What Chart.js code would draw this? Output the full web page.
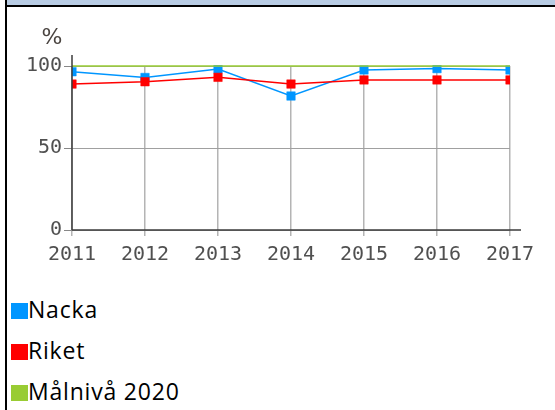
<!DOCTYPE html>
<html>
<head>
<meta charset="utf-8">
<script src="https://cdn.jsdelivr.net/npm/chart.js@4/dist/chart.umd.min.js"></script>
<style>
  html, body { margin: 0; padding: 0; background: #fff; width: 555px; height: 410px; overflow: hidden; }
  #wrap { position: absolute; left: 0; top: 0; width: 555px; height: 280px; }
  .band { position: absolute; left: 7px; top: 0; width: 548px; height: 5px; background: #b8cce4; }
  .hline { position: absolute; left: 5px; top: 5px; width: 550px; height: 2px; background: #000; }
  .vline { position: absolute; left: 5px; top: 0; width: 2px; height: 410px; background: #000; }
  .leg { position: absolute; left: 11px; height: 23px; line-height: 23px; font-family: "Open Sans", sans-serif;
         font-size: 23px; letter-spacing: 0.8px; color: #000; white-space: nowrap; }
  .leg i { display: inline-block; width: 17px; height: 16px; vertical-align: -1px; margin-right: 0; }
</style>
</head>
<body>
<div id="wrap"><canvas id="chart" width="555" height="280"></canvas></div>
<div class="band"></div>
<div class="hline"></div>
<div class="vline"></div>
<div id="legend"></div>

<script>
// ── Data ──────────────────────────────────────────────────────────────────────
const years  = ['2011', '2012', '2013', '2014', '2015', '2016', '2017'];
const nacka  = [96.5, 93, 98.2, 81.7, 97.6, 98.4, 97.6];
const riket  = [89, 90.4, 93.1, 89, 91.5, 91.5, 91.5];
const malniva = [100, 100, 100, 100, 100, 100, 100];
const yTicks = [0, 50, 100];

const series = [
  { label: 'Nacka',        data: nacka,   color: '#0096ff' },
  { label: 'Riket',        data: riket,   color: '#ff0000' },
  { label: 'Målnivå 2020', data: malniva, color: '#99cc33' },
];

const TICK_FONT = { family: 'DejaVu Sans Mono', size: 20 };

// axis lines + "%" label (the y axis runs a bit above 100)
const axisPlugin = {
  id: 'axisLines',
  afterDraw(chart) {
    const { ctx, chartArea: a } = chart;
    ctx.save();
    ctx.strokeStyle = '#3c3c3c';
    ctx.lineWidth = 1.5;
    ctx.beginPath();
    ctx.moveTo(a.left, a.top - 11);
    ctx.lineTo(a.left, a.bottom);
    ctx.moveTo(a.left, a.bottom);
    ctx.lineTo(a.right + 11, a.bottom);
    ctx.stroke();
    ctx.fillStyle = '#4a4440';
    ctx.font = '22px "DejaVu Sans"';
    ctx.textAlign = 'center';
    ctx.textBaseline = 'middle';
    ctx.fillText('%', 52, 38);
    ctx.restore();
  }
};

new Chart(document.getElementById('chart'), {
  type: 'line',
  data: {
    labels: years,
    datasets: series.map(s => ({
      label: s.label,
      data: s.data,
      borderColor: s.color,
      backgroundColor: s.color,
      borderWidth: 1.5,
      pointStyle: 'rect',
      pointRadius: s.label === 'Målnivå 2020' ? 0 : 6,
      pointBorderWidth: 0.5,
      pointHoverRadius: 0,
      tension: 0,
      clip: { left: 0, right: 0, top: 1, bottom: 0 },
    })).reverse()
  },
  options: {
    responsive: false,
    animation: false,
    events: [],
    layout: { padding: { top: 66, right: 45, bottom: 0, left: 0 } },
    plugins: { legend: { display: false }, tooltip: { enabled: false } },
    scales: {
      x: {
        offset: false,
        border: { display: false },
        grid: { color: '#b4b4b4', lineWidth: 1.5, tickLength: 6, tickColor: '#b4b4b4' },
        ticks: { font: TICK_FONT, color: '#505050', padding: 7, maxRotation: 0, autoSkip: false },
        afterFit(scale) { scale.height = 50; }
      },
      y: {
        min: 0,
        max: 100,
        border: { display: false },
        afterBuildTicks(scale) { scale.ticks = yTicks.map(v => ({ value: v })); },
        grid: { color: '#a0a0a0', lineWidth: 1, tickLength: 8, tickColor: '#888' },
        ticks: { font: TICK_FONT, color: '#505050', padding: 2 },
        afterFit(scale) { scale.width = 72; }
      }
    }
  },
  plugins: [axisPlugin]
});

// ── HTML legend ───────────────────────────────────────────────────────────────
const legend = document.getElementById('legend');
series.forEach((s, i) => {
  const row = document.createElement('div');
  row.className = 'leg';
  row.style.top = (298 + i * 41) + 'px';
  row.innerHTML = `<i style="background:${s.color}"></i>${s.label}`;
  legend.appendChild(row);
});
</script>
</body>
</html>
